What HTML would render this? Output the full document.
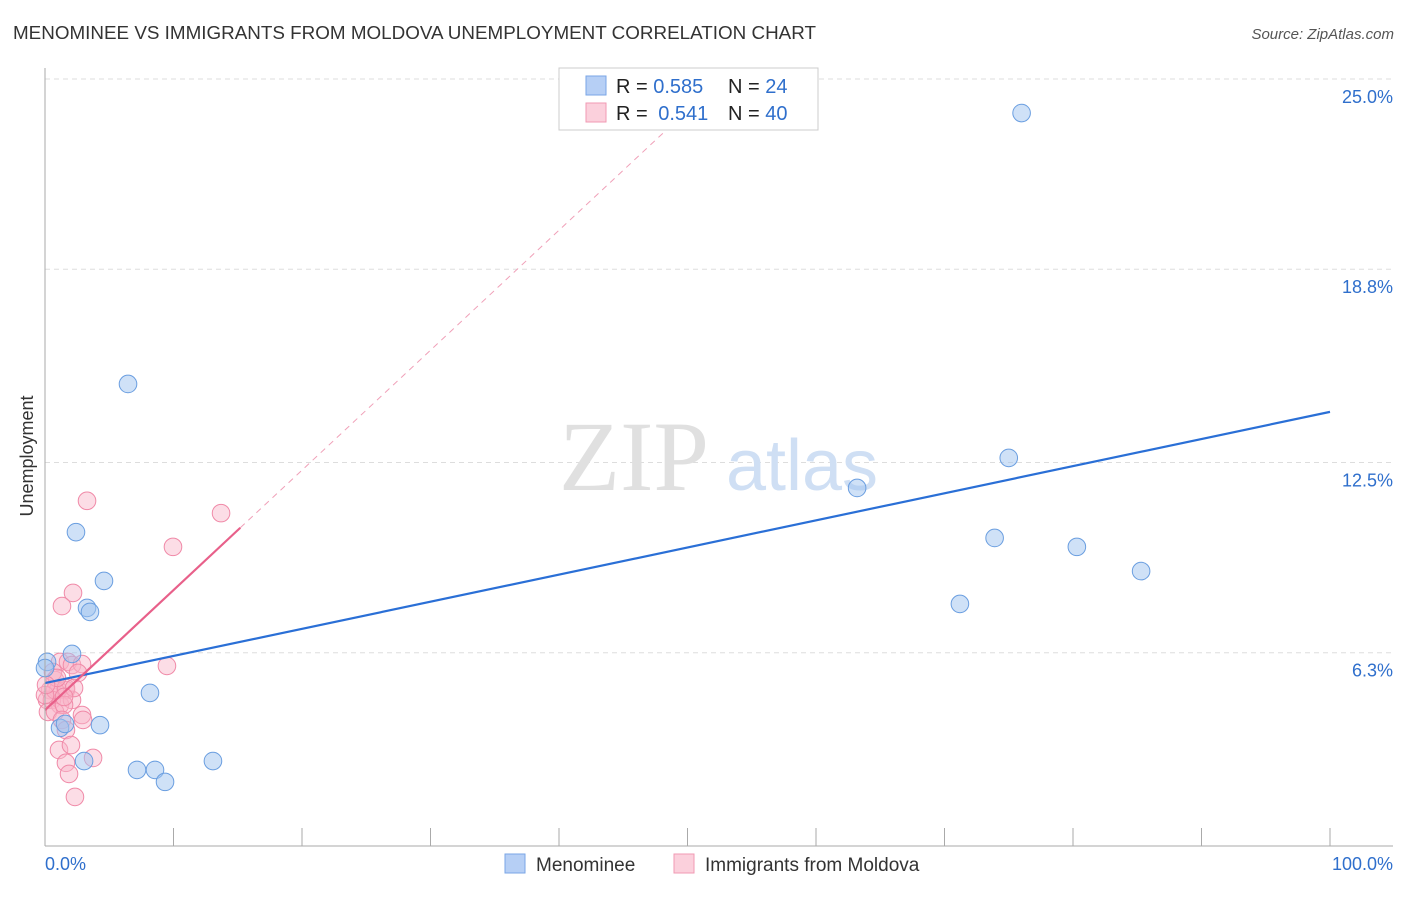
<!DOCTYPE html>
<html><head><meta charset="utf-8"><style>
body{margin:0;background:#fff;font-family:"Liberation Sans",sans-serif}
</style></head><body>
<svg id="chart" width="1406" height="892" xmlns="http://www.w3.org/2000/svg" font-family="Liberation Sans, sans-serif">
<text x="13" y="39" font-size="18" fill="#333" textLength="803" lengthAdjust="spacingAndGlyphs">MENOMINEE VS IMMIGRANTS FROM MOLDOVA UNEMPLOYMENT CORRELATION CHART</text>
<text x="1394" y="39" font-size="15" fill="#555" text-anchor="end" font-style="italic">Source: ZipAtlas.com</text>
<text transform="translate(33,456) rotate(-90)" font-size="18" fill="#333" text-anchor="middle">Unemployment</text>
<g id="grid"></g>
<g><text x="634" y="490" font-size="100" fill="#e0e0e0" font-family="Liberation Serif, serif" text-anchor="middle">ZIP</text><text x="802" y="490" font-size="72" fill="#cfdff4" text-anchor="middle">atlas</text></g>
<g id="marks"></g>
<g id="axes"></g>
<g>
<rect x="559" y="68" width="259" height="62" fill="#fff" stroke="#ccc"/>
<rect x="586" y="76" width="20" height="19" fill="#b6cff5" stroke="#7aa6e6"/>
<rect x="586" y="103" width="20" height="19" fill="#fbd0dc" stroke="#f09ab3"/>
<text x="616" y="93" font-size="20" fill="#222">R = <tspan fill="#2f6fcc">0.585</tspan></text>
<text x="728" y="93" font-size="20" fill="#222">N = <tspan fill="#2f6fcc">24</tspan></text>
<text x="616" y="120" font-size="20" fill="#222">R = <tspan fill="#2f6fcc" dx="5">0.541</tspan></text>
<text x="728" y="120" font-size="20" fill="#222">N = <tspan fill="#2f6fcc">40</tspan></text>
</g>
<g>
<rect x="505" y="854" width="20" height="19" fill="#b6cff5" stroke="#7aa6e6"/>
<text x="536" y="871" font-size="19" fill="#333">Menominee</text>
<rect x="674" y="854" width="20" height="19" fill="#fbd0dc" stroke="#f09ab3"/>
<text x="705" y="871" font-size="19" fill="#333">Immigrants from Moldova</text>
</g>
</svg>
<script>
const yTicks=[25.0,18.8,12.5,6.3];
const yTickLabels=["25.0%","18.8%","12.5%","6.3%"];
const xTickLabels=["0.0%","100.0%"];
const blueX=[76.0,6.46,2.41,4.59,3.27,3.50,2.10,0.16,8.17,1.17,4.28,1.56,3.04,7.16,8.56,9.34,13.07,63.2,75.0,73.9,80.3,85.3,71.2,0.0];
const blueY=[23.89,15.06,10.23,8.64,7.76,7.63,6.26,6.00,4.99,3.85,3.94,3.98,2.77,2.48,2.48,2.09,2.77,11.67,12.65,10.04,9.75,8.96,7.89,5.80];
const pinkX=[3.27,13.7,9.96,2.18,1.32,9.49,1.17,1.79,2.10,2.88,0.78,2.57,0.39,1.01,1.63,0.16,0.54,1.17,2.10,0.23,0.78,1.48,0.78,1.63,0,2.88,2.96,1.32,1.63,1.09,2.02,3.74,1.63,1.87,2.33,0.62,0.93,0.08,2.26,1.48];
const pinkY=[11.25,10.85,9.75,8.25,7.82,5.87,6.00,6.00,5.90,5.93,5.41,5.64,5.08,5.08,5.08,4.76,4.76,4.60,4.76,4.37,4.37,4.60,5.08,5.15,4.92,4.27,4.11,4.11,3.78,3.13,3.29,2.87,2.71,2.35,1.60,5.67,5.48,5.25,5.15,4.86];
const blueTrend=[5.31,14.15];
const pinkTrend=[4.43,0.391];
const X=v=>45+v*12.85, Y=v=>846-v*30.68;
const NS="http://www.w3.org/2000/svg";
function mk(tag,attrs,parent){const e=document.createElementNS(NS,tag);for(const k in attrs)e.setAttribute(k,attrs[k]);document.getElementById(parent).appendChild(e);return e;}
yTicks.forEach((t,i)=>{
 const l=mk('line',{x1:45,x2:1393,y1:Y(t),y2:Y(t),stroke:'#ddd','stroke-dasharray':'5,4'},'grid');
 
 
 const tx=mk('text',{x:1393,y:Y(t)+24,'font-size':18,fill:'#2f6fcc','text-anchor':'end'},'axes');tx.textContent=yTickLabels[i];
 
 
});
let a=mk('line',{x1:45,x2:45,y1:68,y2:846,stroke:'#aaa'},'axes');


a=mk('line',{x1:45,x2:1393,y1:846,y2:846,stroke:'#aaa'},'axes');


for(let k=0;k<=10;k++){const t=mk('line',{x1:X(k*10),x2:X(k*10),y1:828,y2:846,stroke:'#aaa'},'axes');
 
 }
[[0,'start',45],[1,'end',1393]].forEach(([i,an,x])=>{const t=mk('text',{x:x,y:870,'font-size':18,fill:'#2f6fcc','text-anchor':an},'axes');t.textContent=xTickLabels[i];
 
 });
pinkX.forEach((x,i)=>{const c=mk('circle',{cx:X(x),cy:Y(pinkY[i]),r:8.8,fill:'rgba(248,180,200,0.45)',stroke:'#f08aa8','stroke-width':1},'marks');
 
 });
blueX.forEach((x,i)=>{const c=mk('circle',{cx:X(x),cy:Y(blueY[i]),r:8.8,fill:'rgba(160,195,240,0.5)',stroke:'#6a9ee0','stroke-width':1},'marks');
 
 });
let l=mk('line',{x1:X(0),y1:Y(blueTrend[0]),x2:X(100),y2:Y(blueTrend[1]),stroke:'#2a6fd6','stroke-width':2.2},'marks');


const xe=(25-pinkTrend[0])/pinkTrend[1];
l=mk('line',{x1:X(15.2),y1:Y(pinkTrend[0]+pinkTrend[1]*15.2),x2:X(xe),y2:Y(25),stroke:'#f0a0b8','stroke-width':1,'stroke-dasharray':'6,5'},'marks');


l=mk('line',{x1:X(0),y1:Y(pinkTrend[0]),x2:X(15.2),y2:Y(pinkTrend[0]+pinkTrend[1]*15.2),stroke:'#e8608a','stroke-width':2.2},'marks');


</script>
</body></html>
